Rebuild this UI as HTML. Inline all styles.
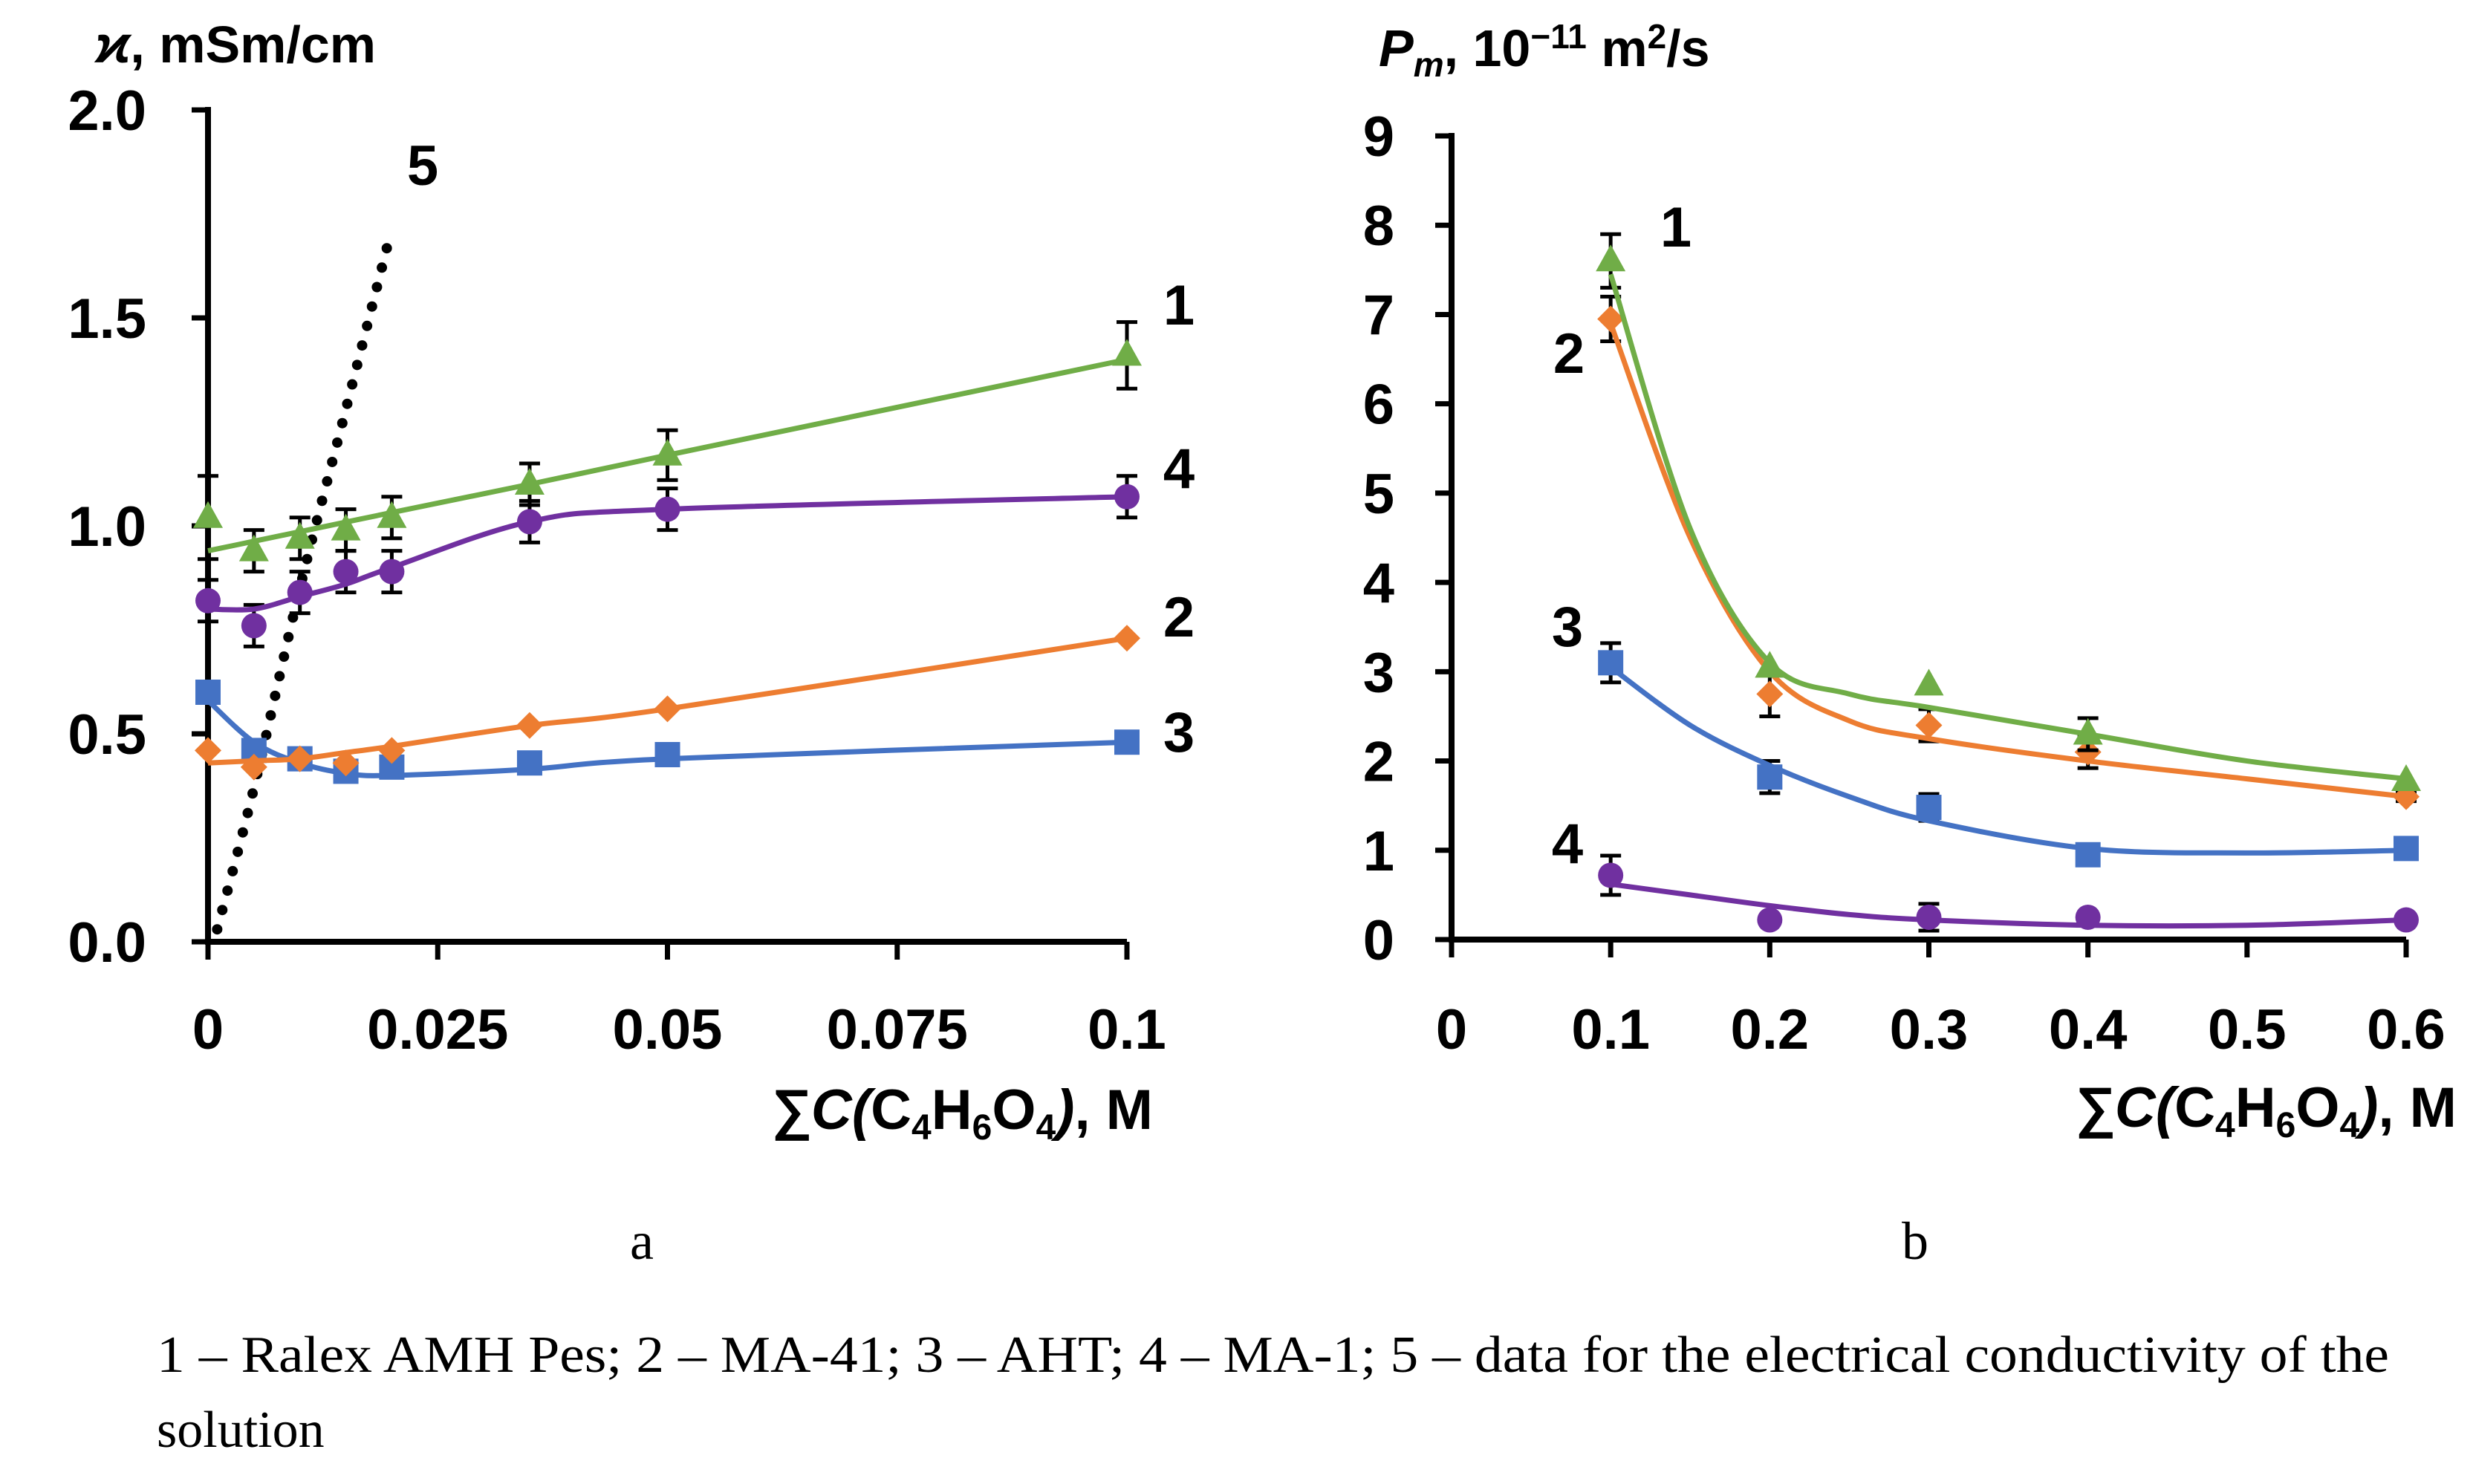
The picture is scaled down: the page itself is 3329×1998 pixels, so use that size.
<!DOCTYPE html>
<html><head><meta charset="utf-8"><style>
html,body{margin:0;padding:0;background:#fff}
svg{display:block}
text{font-family:"Liberation Sans",sans-serif;font-weight:bold;fill:#000}
.serif{font-family:"Liberation Serif",serif;font-weight:normal}
</style></head><body>
<svg id="fig" width="3329" height="1998" viewBox="0 0 3329 1998" xmlns="http://www.w3.org/2000/svg">
<g id="chartA"></g>
<g id="chartB"></g>
<text class="serif" x="864" y="1695" font-size="72" text-anchor="middle">a</text>
<text class="serif" x="2578" y="1695" font-size="72" text-anchor="middle">b</text>
<text class="serif" x="211" y="1847" font-size="70" textLength="3005" lengthAdjust="spacingAndGlyphs">1 – Ralex AMH Pes; 2 – MA-41; 3 – AHT; 4 – MA-1; 5 – data for the electrical conductivity of the</text>
<text class="serif" x="211" y="1948" font-size="70">solution</text>
</svg>
<script>
// ---- Chart A data ----
const aX = [0, 0.005, 0.01, 0.015, 0.02, 0.035, 0.05, 0.1];
const aS1 = [1.02, 0.94, 0.97, 0.99, 1.02, 1.10, 1.17, 1.41];
const aS2 = [0.46, 0.42, 0.44, 0.43, 0.46, 0.52, 0.56, 0.73];
const aS3 = [0.60, 0.46, 0.44, 0.41, 0.42, 0.43, 0.45, 0.48];
const aS4 = [0.82, 0.76, 0.84, 0.89, 0.89, 1.01, 1.04, 1.07];
const aErr1 = [0.10, 0.05, 0.05, 0.05, 0.05, 0.05, 0.06, 0.08];
const aErr4 = [0.05, 0.05, 0.05, 0.05, 0.05, 0.05, 0.05, 0.05];
const aFitX = [0, 0.005, 0.01, 0.015, 0.02, 0.035, 0.05, 0.1];
const aFit1 = [0.94, 0.963, 0.986, 1.009, 1.032, 1.10, 1.17, 1.40];
const aFit2 = [0.43, 0.435, 0.44, 0.455, 0.47, 0.52, 0.56, 0.73];
const aFit3 = [0.58, 0.48, 0.43, 0.405, 0.40, 0.415, 0.44, 0.48];
const aFit4 = [0.80, 0.80, 0.83, 0.86, 0.90, 1.01, 1.04, 1.07];
const aDotX = [0.001, 0.005, 0.01, 0.015, 0.0196];
const aDotY = [0.03, 0.37, 0.85, 1.28, 1.68];
const aYTicks = [0, 0.5, 1.0, 1.5, 2.0];
const aYLabels = ["0.0", "0.5", "1.0", "1.5", "2.0"];
const aXTicks = [0, 0.025, 0.05, 0.075, 0.1];
const aXLabels = ["0", "0.025", "0.05", "0.075", "0.1"];
// ---- Chart B data ----
const bX = [0.1, 0.2, 0.3, 0.4, 0.6];
const bS1 = [7.6, 3.05, 2.85, 2.3, 1.78];
const bS2 = [6.95, 2.75, 2.4, 2.1, 1.6];
const bS3 = [3.1, 1.82, 1.48, 0.95, 1.02];
const bS4 = [0.72, 0.22, 0.25, 0.25, 0.22];
const bErr = [0.25, 0.25, 0.18, 0.18, 0.05];
const bFitX = [0.1, 0.15, 0.2, 0.25, 0.3, 0.4, 0.5, 0.6];
const bFit1 = [7.45, 4.6, 3.1, 2.75, 2.6, 2.3, 2.0, 1.8];
const bFit2 = [6.9, 4.5, 3.0, 2.45, 2.25, 2.0, 1.8, 1.6];
const bFit3 = [3.05, 2.4, 1.95, 1.6, 1.33, 1.02, 0.97, 1.0];
const bFit4 = [0.62, 0.5, 0.38, 0.28, 0.22, 0.16, 0.16, 0.22];
const bYTicks = [0,1,2,3,4,5,6,7,8,9];
const bXTicks = [0,0.1,0.2,0.3,0.4,0.5,0.6];
const bXLabels = ["0","0.1","0.2","0.3","0.4","0.5","0.6"];

const NS = "http://www.w3.org/2000/svg";
const C = {g:"#70ad47", o:"#ed7d31", b:"#4472c4", p:"#7030a0"};
function mk(parent, tag, attrs){const e=document.createElementNS(NS,tag);for(const k in attrs)e.setAttribute(k,attrs[k]);parent.appendChild(e);return e;}
function lin(d0,d1,r0,r1){return v=>r0+(v-d0)*(r1-r0)/(d1-d0);}
function smooth(pts){
  let d="M"+pts[0][0]+","+pts[0][1];
  for(let i=0;i<pts.length-1;i++){
    const p0=pts[Math.max(0,i-1)],p1=pts[i],p2=pts[i+1],p3=pts[Math.min(pts.length-1,i+2)];
    const c1=[p1[0]+(p2[0]-p0[0])/6,p1[1]+(p2[1]-p0[1])/6];
    const c2=[p2[0]-(p3[0]-p1[0])/6,p2[1]-(p3[1]-p1[1])/6];
    d+=" C"+c1[0]+","+c1[1]+" "+c2[0]+","+c2[1]+" "+p2[0]+","+p2[1];
  }
  return d;
}
function marker(g,type,cx,cy,col){
  let e;
  if(type==="tri") e=mk(g,"polygon",{points:`${cx},${cy-22} ${cx-20},${cy+14} ${cx+20},${cy+14}`,fill:col});
  else if(type==="dia") e=mk(g,"polygon",{points:`${cx},${cy-18} ${cx+18},${cy} ${cx},${cy+18} ${cx-18},${cy}`,fill:col});
  else if(type==="sq") e=mk(g,"rect",{x:cx-17,y:cy-17,width:34,height:34,fill:col});
  else e=mk(g,"circle",{cx:cx,cy:cy,r:17,fill:col});
  
  
}
function errbar(g,cx,y1,y2){
  const e=mk(g,"path",{d:`M${cx},${y1}V${y2}M${cx-14},${y1}H${cx+14}M${cx-14},${y2}H${cx+14}`,stroke:"#000","stroke-width":5,fill:"none"});
  
  
}
function series(g,name,fx,fy,sx,sy,type,col,X,Y,err){
  const sg=mk(g,"g",{});
  
  
  if(err) X.forEach((x,i)=>{ if(err[i]>0) errbar(sg,sx(x),sy(Y[i]+err[i]),sy(Y[i]-err[i])); });
  const ln=mk(sg,"path",{d:smooth(fx.map((x,i)=>[sx(x),sy(fy[i])])),stroke:col,"stroke-width":7,fill:"none"});
  
  
  X.forEach((x,i)=>marker(sg,type,sx(x),sy(Y[i]),col));
}
function txt(g,x,y,s,anchor,name,size){
  const t=mk(g,"text",{x:x,y:y,"font-size":size||76,"text-anchor":anchor||"start"});
  t.textContent=s;
  
  
  return t;
}
const XT = '<tspan font-style="italic">∑C(</tspan>C<tspan font-size="48" dy="14">4</tspan><tspan dy="-14">H</tspan><tspan font-size="48" dy="14">6</tspan><tspan dy="-14">O</tspan><tspan font-size="48" dy="14">4</tspan><tspan dy="-14" font-style="italic">)</tspan>, M';
// ---- Chart A ----
(function(){
  const g=document.getElementById("chartA");
  const x0=280,x1=1517,y0=1268,y1=148;
  const sx=lin(0,0.1,x0,x1), sy=lin(0,2,y0,y1);
  const ax=mk(g,"path",{d:`M${x0},${y1-4}V${y0}H${x1}`,stroke:"#000","stroke-width":8,fill:"none"});
  
  
  aYTicks.forEach((v,i)=>{mk(g,"path",{d:`M${x0-22},${sy(v)}H${x0}`,stroke:"#000","stroke-width":7});
    txt(g,197,sy(v)+27,aYLabels[i],"end","y-tick-label-a");});
  aXTicks.forEach((v,i)=>{mk(g,"path",{d:`M${sx(v)},${y0}V${y0+24}`,stroke:"#000","stroke-width":7});
    txt(g,sx(v),1412,aXLabels[i],"middle","x-tick-label-a");});
  const dg=mk(g,"path",{d:smooth(aDotX.map((x,i)=>[sx(x),sy(aDotY[i])])),stroke:"#000","stroke-width":14,"stroke-linecap":"round","stroke-dasharray":"0 27",fill:"none"});
  
  
  series(g,"series-3",aFitX,aFit3,sx,sy,"sq",C.b,aX,aS3,null);
  series(g,"series-2",aFitX,aFit2,sx,sy,"dia",C.o,aX,aS2,null);
  series(g,"series-4",aFitX,aFit4,sx,sy,"circ",C.p,aX,aS4,aErr4);
  series(g,"series-1",aFitX,aFit1,sx,sy,"tri",C.g,aX,aS1,aErr1);
  const t=txt(g,128,84,"","start","y-axis-title-a",70);
  t.innerHTML='<tspan font-style="italic">ϰ</tspan>, mSm/cm';
  const tx=txt(g,1552,1520,"","end","x-axis-title-a",76);
  tx.innerHTML=XT;
  txt(g,1587,437,"1","middle","label-1-a");
  txt(g,1587,657,"4","middle","label-4-a");
  txt(g,1587,857,"2","middle","label-2-a");
  txt(g,1587,1012,"3","middle","label-3-a");
  txt(g,569,249,"5","middle","label-5-a");
})();
// ---- Chart B ----
(function(){
  const g=document.getElementById("chartB");
  const x0=1954,x1=3239,y0=1265,y1=183;
  const sx=lin(0,0.6,x0,x1), sy=lin(0,9,y0,y1);
  const ax=mk(g,"path",{d:`M${x0},${y1-4}V${y0}H${x1}`,stroke:"#000","stroke-width":8,fill:"none"});
  
  
  bYTicks.forEach(v=>{mk(g,"path",{d:`M${x0-22},${sy(v)}H${x0}`,stroke:"#000","stroke-width":7});
    txt(g,1877,sy(v)+27,String(v),"end","y-tick-label-b");});
  bXTicks.forEach((v,i)=>{mk(g,"path",{d:`M${sx(v)},${y0}V${y0+24}`,stroke:"#000","stroke-width":7});
    txt(g,sx(v),1412,bXLabels[i],"middle","x-tick-label-b");});
  series(g,"series-4",bFitX,bFit4,sx,sy,"circ",C.p,bX,bS4,[0.22,0,0.15,0,0]);
  series(g,"series-3",bFitX,bFit3,sx,sy,"sq",C.b,bX,bS3,[0.22,0.18,0.15,0,0]);
  series(g,"series-2",bFitX,bFit2,sx,sy,"dia",C.o,bX,bS2,bErr);
  series(g,"series-1",bFitX,bFit1,sx,sy,"tri",C.g,bX,bS1,[0.3,0,0,0.18,0]);
  const t=txt(g,1856,89,"","start","y-axis-title-b",70);
  t.innerHTML='<tspan font-style="italic">P</tspan><tspan font-style="italic" font-size="46" dy="14">m</tspan><tspan dy="-14">, 10</tspan><tspan font-size="46" dy="-24">−11</tspan><tspan dy="24"> m</tspan><tspan font-size="46" dy="-24">2</tspan><tspan dy="24">/s</tspan>';
  const tx=txt(g,3307,1517,"","end","x-axis-title-b",76);
  tx.innerHTML=XT;
  txt(g,2256,332,"1","middle","label-1-b");
  txt(g,2112,502,"2","middle","label-2-b");
  txt(g,2110,870,"3","middle","label-3-b");
  txt(g,2110,1162,"4","middle","label-4-b");
})();
</script>
</body></html>
